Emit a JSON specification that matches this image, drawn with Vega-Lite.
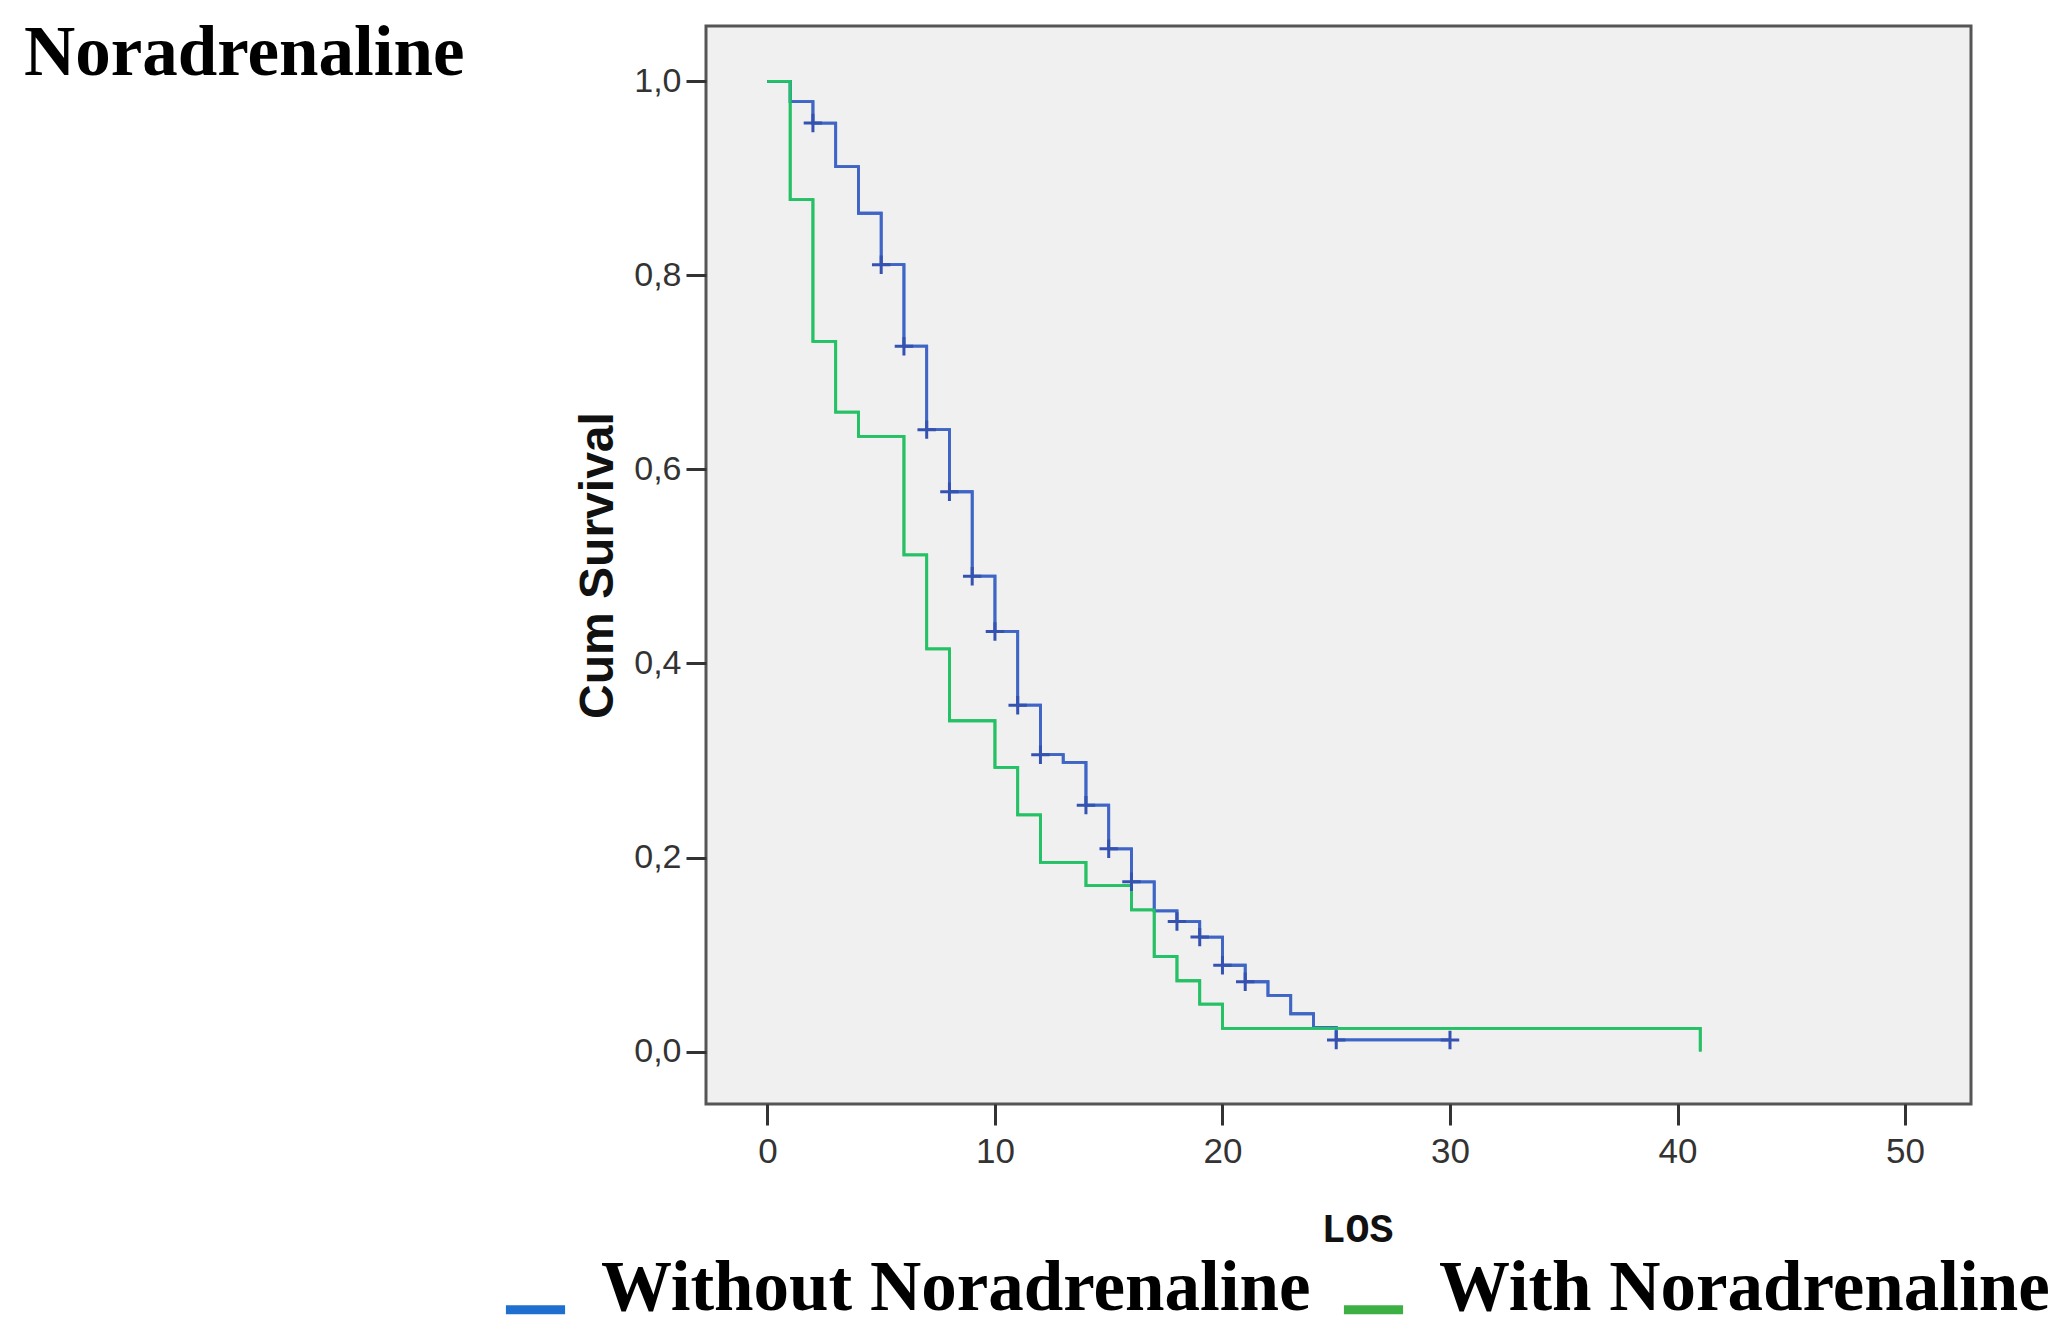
{
  "$schema": "https://vega.github.io/schema/vega-lite/v6.json",
  "width": 1265,
  "height": 1078,
  "autosize": {"type": "none"},
  "padding": {"left": 706, "top": 26, "right": 95, "bottom": 240},
  "background": "white",
  "title": {
    "text": "Noradrenaline",
    "anchor": "start",
    "frame": "group",
    "font": "Liberation Serif",
    "fontSize": 71,
    "fontWeight": "bold",
    "color": "black",
    "baseline": "alphabetic",
    "offset": 0,
    "dx": -682,
    "dy": 120
  },
  "config": {
    "view": {"fill": "#f0f0f0", "stroke": "#555555", "strokeWidth": 3}
  },
  "datasets": {
    "curves": [
      {"group": "Without Noradrenaline", "t": 0, "s": 1.0},
      {"group": "Without Noradrenaline", "t": 1, "s": 0.979},
      {"group": "Without Noradrenaline", "t": 2, "s": 0.957},
      {"group": "Without Noradrenaline", "t": 3, "s": 0.912},
      {"group": "Without Noradrenaline", "t": 4, "s": 0.864},
      {"group": "Without Noradrenaline", "t": 5, "s": 0.811},
      {"group": "Without Noradrenaline", "t": 6, "s": 0.727},
      {"group": "Without Noradrenaline", "t": 7, "s": 0.641},
      {"group": "Without Noradrenaline", "t": 8, "s": 0.577},
      {"group": "Without Noradrenaline", "t": 9, "s": 0.49},
      {"group": "Without Noradrenaline", "t": 10, "s": 0.433},
      {"group": "Without Noradrenaline", "t": 11, "s": 0.357},
      {"group": "Without Noradrenaline", "t": 12, "s": 0.306},
      {"group": "Without Noradrenaline", "t": 13, "s": 0.298},
      {"group": "Without Noradrenaline", "t": 14, "s": 0.254},
      {"group": "Without Noradrenaline", "t": 15, "s": 0.209},
      {"group": "Without Noradrenaline", "t": 16, "s": 0.175},
      {"group": "Without Noradrenaline", "t": 17, "s": 0.145},
      {"group": "Without Noradrenaline", "t": 18, "s": 0.134},
      {"group": "Without Noradrenaline", "t": 19, "s": 0.118},
      {"group": "Without Noradrenaline", "t": 20, "s": 0.089},
      {"group": "Without Noradrenaline", "t": 21, "s": 0.072},
      {"group": "Without Noradrenaline", "t": 22, "s": 0.058},
      {"group": "Without Noradrenaline", "t": 23, "s": 0.039},
      {"group": "Without Noradrenaline", "t": 24, "s": 0.025},
      {"group": "Without Noradrenaline", "t": 25, "s": 0.012},
      {"group": "Without Noradrenaline", "t": 30, "s": 0.012},
      {"group": "With Noradrenaline", "t": 0, "s": 1.0},
      {"group": "With Noradrenaline", "t": 1, "s": 0.878},
      {"group": "With Noradrenaline", "t": 2, "s": 0.732},
      {"group": "With Noradrenaline", "t": 3, "s": 0.659},
      {"group": "With Noradrenaline", "t": 4, "s": 0.634},
      {"group": "With Noradrenaline", "t": 6, "s": 0.512},
      {"group": "With Noradrenaline", "t": 7, "s": 0.415},
      {"group": "With Noradrenaline", "t": 8, "s": 0.341},
      {"group": "With Noradrenaline", "t": 10, "s": 0.293},
      {"group": "With Noradrenaline", "t": 11, "s": 0.244},
      {"group": "With Noradrenaline", "t": 12, "s": 0.195},
      {"group": "With Noradrenaline", "t": 14, "s": 0.171},
      {"group": "With Noradrenaline", "t": 16, "s": 0.146},
      {"group": "With Noradrenaline", "t": 17, "s": 0.098},
      {"group": "With Noradrenaline", "t": 18, "s": 0.073},
      {"group": "With Noradrenaline", "t": 19, "s": 0.049},
      {"group": "With Noradrenaline", "t": 20, "s": 0.024},
      {"group": "With Noradrenaline", "t": 41, "s": 0.0}
    ],
    "censored": [
      {"t": 2, "s": 0.957},
      {"t": 5, "s": 0.811},
      {"t": 6, "s": 0.727},
      {"t": 7, "s": 0.641},
      {"t": 8, "s": 0.577},
      {"t": 9, "s": 0.49},
      {"t": 10, "s": 0.433},
      {"t": 11, "s": 0.357},
      {"t": 12, "s": 0.306},
      {"t": 14, "s": 0.254},
      {"t": 15, "s": 0.209},
      {"t": 16, "s": 0.175},
      {"t": 18, "s": 0.134},
      {"t": 19, "s": 0.118},
      {"t": 20, "s": 0.089},
      {"t": 21, "s": 0.072},
      {"t": 25, "s": 0.012},
      {"t": 30, "s": 0.012}
    ]
  },
  "layer": [
    {
      "data": {"name": "curves"},
      "mark": {"type": "line", "interpolate": "step-after", "strokeWidth": 2.8},
      "encoding": {
        "x": {
          "field": "t",
          "type": "quantitative",
          "scale": {"domain": [-2.7, 52.9], "nice": false, "zero": false},
          "axis": {
            "values": [0, 10, 20, 30, 40, 50],
            "title": "LOS",
            "titleFont": "Liberation Mono",
            "titleFontSize": 40,
            "titleFontWeight": "bold",
            "titleColor": "#111111",
            "titlePadding": 40,
            "titleX": 651,
            "labelFont": "Liberation Sans",
            "labelFontSize": 35,
            "labelColor": "#333333",
            "labelPadding": 9,
            "tickSize": 21,
            "tickWidth": 3,
            "tickColor": "#333333",
            "domain": false,
            "grid": false
          }
        },
        "y": {
          "field": "s",
          "type": "quantitative",
          "scale": {"domain": [-0.054, 1.057], "nice": false, "zero": false},
          "axis": {
            "values": [0, 0.2, 0.4, 0.6, 0.8, 1.0],
            "labelExpr": "replace(format(datum.value, '.1f'), '.', ',')",
            "title": "Cum Survival",
            "titleFont": "Liberation Sans",
            "titleFontSize": 48,
            "titleFontWeight": "bold",
            "titleColor": "#111111",
            "titlePadding": 11,
            "labelFont": "Liberation Sans",
            "labelFontSize": 34,
            "labelColor": "#333333",
            "labelPadding": 5,
            "tickSize": 20,
            "tickWidth": 3,
            "tickColor": "#333333",
            "domain": false,
            "grid": false
          }
        },
        "color": {
          "field": "group",
          "type": "nominal",
          "scale": {
            "domain": ["Without Noradrenaline", "With Noradrenaline"],
            "range": ["#1f6fd0", "#3cb043"]
          },
          "legend": {
            "orient": "none",
            "legendX": -206,
            "legendY": 1248,
            "direction": "horizontal",
            "columns": 2,
            "title": null,
            "padding": 0,
            "symbolType": "stroke",
            "symbolSize": 3500,
            "symbolStrokeWidth": 9,
            "labelFont": "Liberation Serif",
            "labelFontSize": 71,
            "labelFontWeight": "bold",
            "labelColor": "black",
            "labelLimit": 1500,
            "labelOffset": 30,
            "columnPadding": 14,
            "labelBaseline": "alphabetic"
          }
        }
      }
    },
    {
      "data": {"name": "curves"},
      "mark": {"type": "line", "interpolate": "step-after", "strokeWidth": 2.8},
      "encoding": {
        "x": {"field": "t", "type": "quantitative"},
        "y": {"field": "s", "type": "quantitative"},
        "stroke": {
          "field": "group",
          "type": "nominal",
          "scale": {
            "domain": ["Without Noradrenaline", "With Noradrenaline"],
            "range": ["#4264c4", "#22c268"]
          },
          "legend": null
        }
      }
    },
    {
      "data": {"name": "censored"},
      "mark": {
        "type": "point",
        "shape": "M-1,0H1M0,-1V1",
        "filled": false,
        "size": 340,
        "strokeWidth": 3,
        "color": "#3552b0",
        "opacity": 1
      },
      "encoding": {
        "x": {"field": "t", "type": "quantitative"},
        "y": {"field": "s", "type": "quantitative"}
      }
    }
  ]
}
